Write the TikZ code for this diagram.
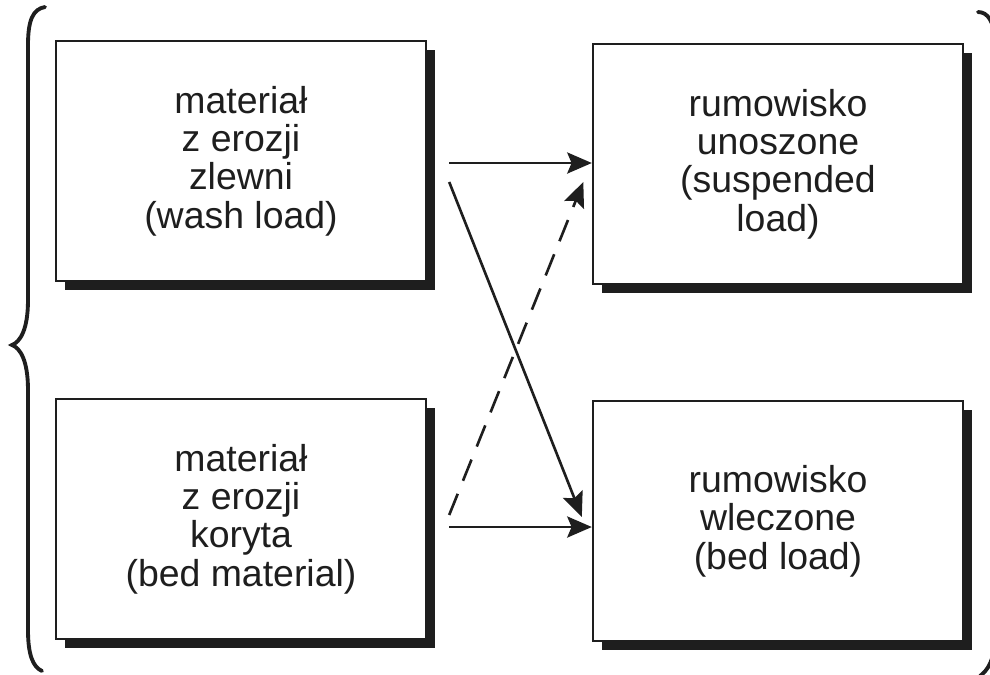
\documentclass[tikz,border=0pt]{standalone}
\usepackage{fontspec}
\setmainfont{Liberation Sans}
\usepackage{xcolor}
\usetikzlibrary{arrows.meta,shadows,calc}
\definecolor{inkDark}{HTML}{1E1E1E}
\tikzset{
  loadbox/.style={draw=inkDark, line width=1.4pt, fill=white,
    minimum width=7.4cm, minimum height=4.8cm, align=center,
    font=\fontsize{21.3}{21.8}\selectfont, text=inkDark,
    drop shadow={shadow xshift=5pt, shadow yshift=-5pt, fill=inkDark, opacity=1}},
  flowArc/.style={-{Stealth[length=14pt, width=12pt, inset=2.5pt]}, line width=1.5pt, draw=inkDark},
  dashArc/.style={flowArc, dash pattern=on 13pt off 8pt},
  braceLine/.style={line width=2.2pt, draw=inkDark, line cap=round},
}

\begin{document}
\begin{tikzpicture}[x=0.02cm, y=-0.02cm]
    \useasboundingbox (0,0) rectangle (990,674);
    \clip (0,0) rectangle (990,674);
    \node[loadbox] (wash) at (241,161) {materiał\\z erozji\\zlewni\\(wash load)};
    \node[loadbox] (bedmat) at (241,519) {materiał\\z erozji\\koryta\\(bed material)};
    \node[loadbox] (susp) at (778,164) {rumowisko\\unoszone\\(suspended\\load)};
    \node[loadbox] (bedload) at (778,521) {rumowisko\\wleczone\\(bed load)};
    \draw[flowArc] ([xshift=0.44cm, yshift=-0.04cm]wash.east) -- ([yshift=-0.04cm]wash.east -| susp.west);
    \draw[flowArc] ([xshift=0.44cm, yshift=-0.16cm]bedmat.east) -- ([yshift=-0.16cm]bedmat.east -| bedload.west);
    \draw[flowArc] ([xshift=0.44cm, yshift=-0.42cm]wash.east) -- ([xshift=-0.2cm, yshift=0.08cm]bedload.west);
    \draw[dashArc] ([xshift=0.44cm, yshift=0.08cm]bedmat.east) -- ([xshift=-0.17cm, yshift=-0.36cm]susp.west);
    \draw[braceLine] (45,7) .. controls (33,9) and (28,20) .. (28,45) -- (28,300)
      .. controls (28,330) and (20,342) .. (12,345) .. controls (20,348) and (28,360) .. (28,390)
      -- (28,630) .. controls (28,655) and (33,667) .. (42,671);
    \draw[braceLine] (978,12) .. controls (988,12) and (994,22) .. (995,40) -- (995,640)
      .. controls (994,660) and (988,670) .. (980,676);
  \end{tikzpicture}
\end{document}
